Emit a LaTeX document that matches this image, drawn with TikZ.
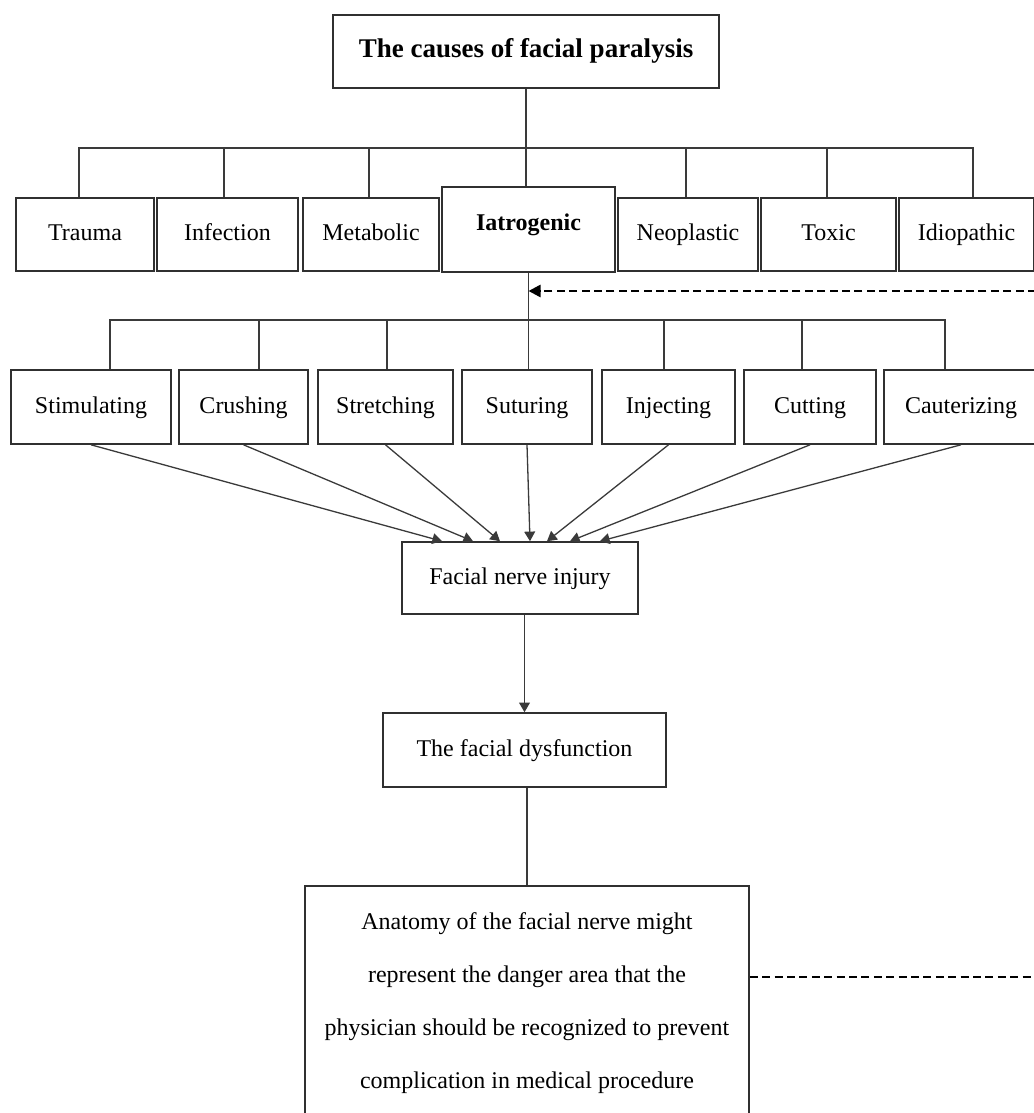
\documentclass[tikz,border=0pt]{standalone}
\usepackage{fontspec}
\setmainfont{Liberation Serif}
\usetikzlibrary{arrows.meta,calc}

\definecolor{boxline}{HTML}{303030}
\definecolor{wire}{HTML}{3A3A3A}

\tikzstyle{cause}=[draw=boxline,line width=0.8pt,rectangle,inner sep=2pt,minimum height=36.5pt,text height=8.5pt,text depth=2.5pt,font=\fontsize{12}{14}\selectfont]
\tikzstyle{act}=[cause,minimum height=37pt]
\tikzstyle{link}=[draw=wire,line width=0.65pt,-]
\tikzstyle{arrow}=[link,-{Triangle[length=4.8pt,width=5.4pt]}]
\tikzstyle{feedback}=[draw=black,line width=1.25pt,dash pattern=on 4pt off 2.2pt]
\newcommand{\pxunit}{0.5pt}

\begin{document}
\begin{tikzpicture}[x=\pxunit, y=-\pxunit]
    \useasboundingbox (0,0) rectangle (1033,1113);
    % Title and the seven causes
    \node[cause, minimum width=193pt, text height=9.5pt, text depth=3pt, font=\bfseries\fontsize{13.5}{16}\selectfont] (title) at (526,51.5) {The causes of facial paralysis};
    \foreach \pos/\name/\txt/\bw in {{(85,234.5)/trauma/Trauma/69pt}, {(227.5,234.5)/infection/Infection/70.5pt},
            {(371,234.5)/metabolic/Metabolic/68pt}, {(688,234.5)/neoplastic/Neoplastic/70pt},
            {(828.5,234.5)/toxic/Toxic/67.5pt}, {(966.5,234.5)/idiopathic/Idiopathic/67.5pt}}
        \node[cause, minimum width=\bw] (\name) at \pos {\txt};
    \node[cause, minimum width=86.5pt, minimum height=42.5pt, text depth=8pt, font=\bfseries\fontsize{12}{14}\selectfont] (iatro) at (528.5,229.5) {Iatrogenic};
    % Tree lines from the title
    \coordinate (hub1) at (526,148);
    \draw[link] (title.south) -- (title.south |- iatro.north);
    \foreach \name/\dx in {trauma/-6, infection/-3.5, metabolic/-2, neoplastic/-2, toxic/-1.5, idiopathic/6.5}
        \draw[link] ($(\name.north)+(\dx,0)$) |- (hub1);
    % The seven iatrogenic acts
    \foreach \pos/\name/\txt/\bw in {{(91,407)/stimulating/Stimulating/80pt}, {(243.5,407)/crushing/Crushing/64.5pt},
            {(385.5,407)/stretching/Stretching/67.5pt}, {(527,407)/suturing/Suturing/65pt},
            {(668.5,407)/injecting/Injecting/66.5pt}, {(810,407)/cutting/Cutting/66pt},
            {(961,407)/cauterizing/Cauterizing/77pt}}
        \node[act, minimum width=\bw] (\name) at \pos {\txt};
    \coordinate (hub2) at (528.5,320);
    \draw[link] (iatro.south) -- (iatro.south |- suturing.north);
    \foreach \name/\dx in {stimulating/19, crushing/15.5, stretching/1.5, injecting/-4.5, cutting/-8, cauterizing/-16}
        \draw[link] ($(\name.north)+(\dx,0)$) |- (hub2);
    % Injury, dysfunction and anatomy
    \node[cause, minimum width=118pt, minimum height=36pt] (injury) at (520,578) {Facial nerve injury};
    \node[cause, minimum width=141.5pt, minimum height=37pt] (dysfunction) at (524.5,750) {The facial dysfunction};
    \node[cause, anchor=north, minimum width=222pt, minimum height=117pt, text height=, text depth=, align=center, font=\fontsize{12}{26.5}\selectfont] (anatomy) at (527,885)
        {Anatomy of the facial nerve might\\represent the danger area that the\\physician should be recognized to prevent\\complication in medical procedure};
    \foreach \name/\dx in {stimulating/-78, crushing/-47, stretching/-20, suturing/10, injecting/27, cutting/50, cauterizing/80}
        \draw[arrow] (\name.south) -- ($(injury.north)+(\dx,0)$);
    \draw[arrow] (dysfunction.north |- injury.south) -- (dysfunction.north);
    \draw[link] (anatomy.north |- dysfunction.south) -- (anatomy.north);
    % Dashed feedback at the right edge
    \coordinate (back1) at (1036,291);
    \coordinate (back2) at (1036,977);
    \draw[feedback, -{Triangle[length=6pt,width=6pt]}] (back1) -- (iatro.south |- back1);
    \draw[feedback] (anatomy.east |- back2) -- (back2);
\end{tikzpicture}
\end{document}
